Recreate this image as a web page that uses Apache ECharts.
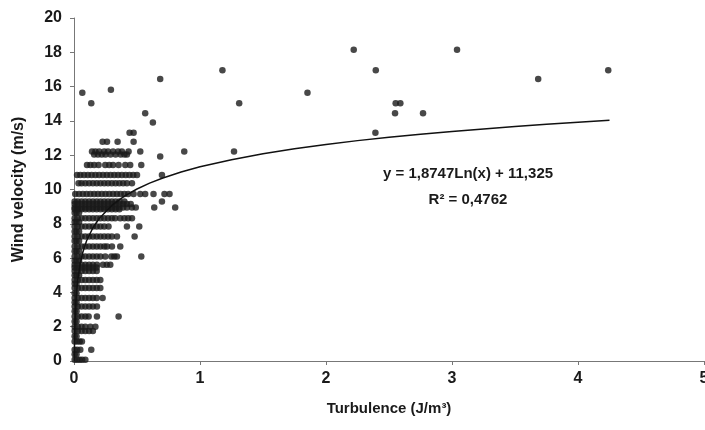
<!DOCTYPE html>
<html>
<head>
<meta charset="utf-8">
<script src="https://cdn.jsdelivr.net/npm/echarts@6/dist/echarts.min.js"></script>
<style>
html,body{margin:0;padding:0;background:#fff;}
#chart{width:705px;height:430px;}
</style>
</head>
<body>
<div id="chart"></div>
<script>
// Wind velocity levels (m/s) and the turbulence values (J/m3) observed at each level
const velocityLevels = [0.08, 0.4, 0.66, 1.14, 1.45, 1.75, 2.0, 2.3, 2.6, 2.9, 3.18, 3.42, 3.67, 3.95, 4.25, 4.5, 4.73, 5.0, 5.25, 5.45, 5.61, 5.85, 6.09, 6.4, 6.67, 7.0, 7.26, 7.55, 7.84, 8.1, 8.33, 8.65, 8.85, 8.95, 9.15, 9.3, 9.74, 10.37, 10.85, 11.43, 11.92, 12.04, 12.21, 12.79, 13.31, 13.9, 14.44, 15.03, 15.64, 15.82, 16.44, 16.95, 18.15];
const turbulenceAtLevel = [
  [0.005, 0.025, 0.045, 0.065, 0.09],
  [0.005, 0.02],
  [0.005, 0.025, 0.05, 0.137],
  [0.005, 0.025, 0.045, 0.063],
  [0.005, 0.02],
  [0.005, 0.03, 0.06, 0.09, 0.12, 0.15],
  [0.005, 0.03, 0.06, 0.09, 0.13, 0.17],
  [0.005, 0.02],
  [0.005, 0.03, 0.06, 0.09, 0.116, 0.182, 0.354],
  [0.005, 0.02],
  [0.005, 0.03, 0.06, 0.09, 0.12, 0.15, 0.182],
  [0.005, 0.02],
  [0.005, 0.03, 0.06, 0.09, 0.12, 0.15, 0.18, 0.227],
  [0.005, 0.02],
  [0.005, 0.03, 0.06, 0.09, 0.12, 0.15, 0.18, 0.209],
  [0.005, 0.02],
  [0.005, 0.03, 0.06, 0.09, 0.12, 0.15, 0.18, 0.209],
  [0.005, 0.02, 0.04],
  [0.005, 0.03, 0.06, 0.09, 0.12, 0.15, 0.18],
  [0.005, 0.03, 0.06, 0.09, 0.12, 0.15, 0.18],
  [0.005, 0.03, 0.06, 0.09, 0.12, 0.15, 0.182, 0.23, 0.26, 0.288],
  [0.005, 0.02, 0.04],
  [0.005, 0.03, 0.06, 0.09, 0.12, 0.15, 0.18, 0.21, 0.248, 0.296, 0.32, 0.341, 0.534],
  [0.005, 0.02, 0.04],
  [0.005, 0.03, 0.06, 0.09, 0.12, 0.15, 0.18, 0.21, 0.24, 0.262, 0.301, 0.367],
  [0.005, 0.02, 0.04],
  [0.005, 0.03, 0.06, 0.09, 0.12, 0.15, 0.18, 0.21, 0.24, 0.27, 0.3, 0.341, 0.481],
  [0.005, 0.02, 0.04],
  [0.005, 0.03, 0.06, 0.09, 0.12, 0.15, 0.18, 0.21, 0.24, 0.274, 0.42, 0.518],
  [0.005, 0.02, 0.04],
  [0.005, 0.03, 0.06, 0.09, 0.12, 0.15, 0.18, 0.21, 0.24, 0.27, 0.3, 0.327, 0.367, 0.4, 0.43, 0.46],
  [0.005, 0.02, 0.04],
  [0.005, 0.03, 0.06, 0.09, 0.12, 0.15, 0.18, 0.21, 0.24, 0.27, 0.3, 0.33, 0.36],
  [0.005, 0.03, 0.06, 0.09, 0.12, 0.15, 0.18, 0.21, 0.24, 0.27, 0.3, 0.33, 0.36, 0.39, 0.42, 0.46, 0.49, 0.637, 0.803],
  [0.005, 0.03, 0.06, 0.09, 0.12, 0.15, 0.18, 0.21, 0.24, 0.27, 0.3, 0.33, 0.36, 0.39, 0.42, 0.45],
  [0.005, 0.03, 0.06, 0.09, 0.12, 0.15, 0.18, 0.21, 0.24, 0.27, 0.3, 0.33, 0.36, 0.4, 0.698],
  [0.01, 0.04, 0.07, 0.1, 0.13, 0.16, 0.19, 0.22, 0.25, 0.28, 0.31, 0.34, 0.37, 0.4, 0.43, 0.473, 0.526, 0.565, 0.631, 0.718, 0.758],
  [0.036, 0.06, 0.09, 0.12, 0.15, 0.18, 0.21, 0.24, 0.27, 0.3, 0.33, 0.36, 0.39, 0.42, 0.46],
  [0.024, 0.05, 0.08, 0.11, 0.14, 0.17, 0.2, 0.23, 0.26, 0.29, 0.32, 0.35, 0.38, 0.41, 0.44, 0.47, 0.5, 0.698],
  [0.103, 0.13, 0.16, 0.195, 0.248, 0.28, 0.31, 0.354, 0.407, 0.446, 0.534],
  [0.684],
  [0.16, 0.19, 0.22, 0.25, 0.29, 0.33, 0.37, 0.4, 0.42],
  [0.143, 0.17, 0.2, 0.24, 0.27, 0.31, 0.35, 0.38, 0.433, 0.526, 0.875, 1.27],
  [0.227, 0.262, 0.346, 0.473],
  [0.441, 0.473, 2.392],
  [0.626],
  [0.565, 2.548, 2.77],
  [0.137, 1.311, 2.553, 2.59],
  [0.066, 1.853],
  [0.293],
  [0.684, 3.684],
  [1.178, 2.395, 4.24],
  [2.22, 3.04]
];

// Logarithmic trend line: y = 1,8747 Ln(x) + 11,325
const trendX = [0.0024, 0.004, 0.007, 0.01, 0.015, 0.02, 0.03, 0.05, 0.07, 0.1, 0.15, 0.2, 0.3, 0.4, 0.5, 0.6, 0.7, 0.85, 1, 1.25, 1.5, 1.75, 2, 2.25, 2.5, 2.75, 3, 3.25, 3.5, 3.75, 4, 4.25];
const trendY = [0.02, 0.97, 2.02, 2.69, 3.45, 3.99, 4.75, 5.71, 6.34, 7.01, 7.77, 8.31, 9.07, 9.61, 10.03, 10.37, 10.66, 11.02, 11.33, 11.74, 12.09, 12.37, 12.62, 12.85, 13.04, 13.22, 13.38, 13.53, 13.67, 13.80, 13.92, 14.04];

const equationText = 'y = 1,8747Ln(x) + 11,325';
const rSquaredText = 'R\u00B2 = 0,4762';

const scatterData = [];
velocityLevels.forEach((v, i) => {
  turbulenceAtLevel[i].forEach(t => scatterData.push([t, v]));
});
const trendData = trendX.map((x, i) => [x, trendY[i]]);

const FONT = 'Liberation Sans, Arial, sans-serif';
const INK = '#1a1a1a';
const chart = echarts.init(document.getElementById('chart'), null, {renderer: 'canvas'});
chart.setOption({
  animation: false,
  backgroundColor: '#ffffff',
  grid: {left: 74, right: 1, top: 18, bottom: 69, containLabel: false, outerBoundsMode: 'none'},
  xAxis: {
    type: 'value', min: 0, max: 5, interval: 1,
    name: 'Turbulence (J/m\u00B3)', nameLocation: 'middle', nameGap: 40,
    nameTextStyle: {fontFamily: FONT, fontWeight: 'bold', fontSize: 15, color: INK},
    axisLine: {show: true, lineStyle: {color: '#777', width: 1}},
    axisTick: {show: true, inside: false, length: 4, lineStyle: {color: '#777'}},
    axisLabel: {fontFamily: FONT, fontWeight: 'bold', fontSize: 16, color: INK, margin: 10},
    splitLine: {show: false}
  },
  yAxis: {
    type: 'value', min: 0, max: 20, interval: 2,
    name: 'Wind velocity (m/s)', nameLocation: 'middle', nameGap: 47, nameRotate: 90,
    nameTextStyle: {fontFamily: FONT, fontWeight: 'bold', fontSize: 16, color: INK},
    axisLine: {show: true, lineStyle: {color: '#777', width: 1}},
    axisTick: {show: true, inside: false, length: 4, lineStyle: {color: '#777'}},
    axisLabel: {fontFamily: FONT, fontWeight: 'bold', fontSize: 16, color: INK, margin: 12},
    splitLine: {show: false}
  },
  graphic: [
    {type: 'text', x: 468, y: 174, style: {text: equationText, fontFamily: FONT, fontWeight: 'bold', fontSize: 15, fill: INK, align: 'center', verticalAlign: 'middle'}},
    {type: 'text', x: 468, y: 200, style: {text: rSquaredText, fontFamily: FONT, fontWeight: 'bold', fontSize: 15, fill: INK, align: 'center', verticalAlign: 'middle'}}
  ],
  series: [
    {
      type: 'scatter', data: scatterData, symbol: 'circle', symbolSize: 6.5,
      itemStyle: {color: INK}, z: 2
    },
    {
      type: 'line', data: trendData, showSymbol: false, symbol: 'none',
      smooth: false,
      lineStyle: {color: '#111', width: 1.5}, z: 3
    }
  ]
});
</script>
</body>
</html>
